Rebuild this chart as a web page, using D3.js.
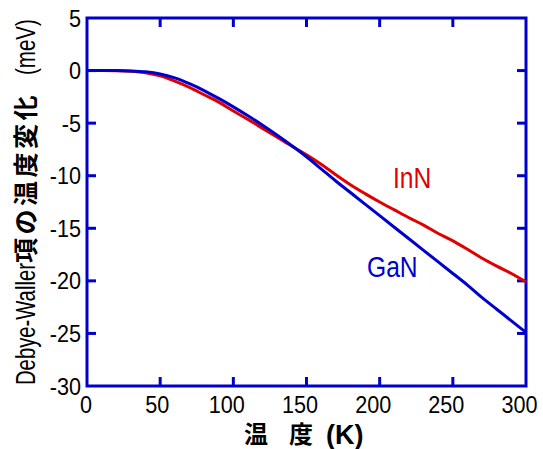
<!DOCTYPE html>
<html>
<head>
<meta charset="utf-8">
<script src="https://cdn.jsdelivr.net/npm/d3@7"></script>
<style>
  html, body { margin: 0; padding: 0; background: #fff; }
  svg { display: block; }
</style>
</head>
<body>
<svg id="chart" width="543" height="449"></svg>
<script>
// Temperature grid (K)
const temps = [0, 10, 20, 30, 40, 50, 60, 70, 80, 90, 100, 110, 120, 130, 140, 150,
  160, 170, 180, 190, 200, 210, 220, 230, 240, 250, 260, 270, 280, 290, 300];

// Debye-Waller shift (meV)
const inN = [0, 0, -0.01, -0.06, -0.2, -0.5, -1.0, -1.6, -2.3, -3.0, -3.85, -4.65, -5.5, -6.35, -7.2, -8.0,
  -8.9, -9.9, -10.85, -11.7, -12.5, -13.25, -14.0, -14.7, -15.5, -16.2, -17.0, -17.85, -18.6, -19.3, -20.1];
const gaN = [0, 0, 0, -0.03, -0.12, -0.32, -0.7, -1.25, -1.9, -2.65, -3.45, -4.3, -5.2, -6.15, -7.15, -8.2,
  -9.35, -10.5, -11.6, -12.7, -13.8, -14.9, -16.0, -17.1, -18.2, -19.3, -20.4, -21.6, -22.7, -23.8, -24.9];

const xTicks = [0, 50, 100, 150, 200, 250, 300];
const yTicks = [5, 0, -5, -10, -15, -20, -25, -30];

const seriesNames = ["InN", "GaN"];
const seriesColors = ["#e00000", "#0000cc"];
const axisColor = "#0000cc";

const sans = "\"Liberation Sans\", Arial, sans-serif";
const cjk = "\"Noto Sans CJK JP\", sans-serif";

const svg = d3.select("#chart");
const plotL = 87, plotR = 526, plotT = 18, plotB = 386;

const x = d3.scaleLinear().domain([0, 300]).range([plotL, plotR]);
const y = d3.scaleLinear().domain([-30, 5]).range([plotB, plotT]);

// Condensed text: placed at (px, py), squeezed horizontally by sx
function narrowText(parent, px, py, str, opts) {
  const g = parent.append("g").attr("transform", `translate(${px},${py}) scale(${opts.sx || 1},1)`);
  return g.append("text")
    .attr("text-anchor", opts.anchor || "start")
    .attr("font-family", opts.family || sans)
    .attr("font-weight", opts.weight || "normal")
    .attr("font-size", opts.size)
    .attr("fill", opts.fill || "#000")
    .text(str);
}

const tickLen = 9;
const frame = svg.append("g");

// Inward ticks on all four sides
xTicks.forEach(t => {
  if (t === 0 || t === 300) return;
  frame.append("line").attr("x1", x(t)).attr("x2", x(t)).attr("y1", plotB).attr("y2", plotB - tickLen)
    .attr("stroke", axisColor).attr("stroke-width", 3);
  frame.append("line").attr("x1", x(t)).attr("x2", x(t)).attr("y1", plotT).attr("y2", plotT + tickLen)
    .attr("stroke", axisColor).attr("stroke-width", 3);
});
yTicks.forEach(t => {
  if (t === 5 || t === -30) return;
  frame.append("line").attr("x1", plotL).attr("x2", plotL + tickLen).attr("y1", y(t)).attr("y2", y(t))
    .attr("stroke", axisColor).attr("stroke-width", 3);
  frame.append("line").attr("x1", plotR).attr("x2", plotR - tickLen).attr("y1", y(t)).attr("y2", y(t))
    .attr("stroke", axisColor).attr("stroke-width", 3);
});

// Tick labels
const xShift = { 1: -1, 2: -3, 3: -6.5 };
xTicks.forEach(t => {
  const s = String(t);
  narrowText(svg, x(t) + xShift[s.length], plotB + 27, s, { size: 24, sx: 0.9, anchor: "middle" });
});
yTicks.forEach(t => {
  narrowText(svg, plotL - 6, y(t) + 8.5, String(t), { size: 24, sx: 0.9, anchor: "end" });
});

// Curves
const line = d3.line().x(d => x(d[0])).y(d => y(d[1])).curve(d3.curveMonotoneX);
[inN, gaN].forEach((vals, i) => {
  svg.append("path").datum(temps.map((t, j) => [t, vals[j]]))
    .attr("d", line).attr("fill", "none")
    .attr("stroke", seriesColors[i]).attr("stroke-width", 3);
});

// Series labels
narrowText(svg, 393, 188, seriesNames[0], { size: 30, sx: 0.82, fill: seriesColors[0] });
narrowText(svg, 367, 276.5, seriesNames[1], { size: 30, sx: 0.82, fill: seriesColors[1] });

// Frame
frame.append("rect").attr("x", plotL).attr("y", plotT).attr("width", plotR - plotL).attr("height", plotB - plotT)
  .attr("fill", "none").attr("stroke", axisColor).attr("stroke-width", 3);

// X axis title
svg.append("text").attr("x", 244).attr("y", 443).attr("font-family", cjk).attr("font-weight", "bold")
  .attr("font-size", 24).text("温");
svg.append("text").attr("x", 289).attr("y", 443).attr("font-family", cjk).attr("font-weight", "bold")
  .attr("font-size", 24).text("度");
svg.append("text").attr("x", 326).attr("y", 444).attr("font-family", sans).attr("font-weight", "bold")
  .attr("font-size", 27).text("(K)");

// Y axis title (rotated, reading bottom to top)
const yTitle = svg.append("g").attr("transform", "translate(35,385) rotate(-90)");
narrowText(yTitle, 0, 0, "Debye-Waller", { size: 27, sx: 0.75 });
yTitle.append("text").attr("x", 122).attr("y", 0).attr("font-family", cjk).attr("font-weight", "bold")
  .attr("font-size", 25).attr("letter-spacing", 3.5).text("項の温度変化");
narrowText(yTitle, 310, 0, "(meV)", { size: 27, sx: 0.76 });
</script>
</body>
</html>
